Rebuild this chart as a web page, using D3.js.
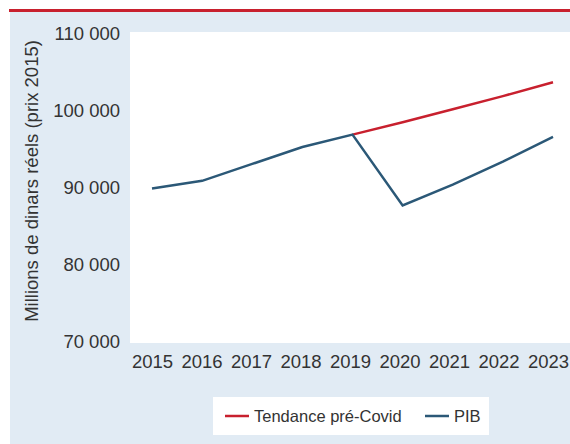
<!DOCTYPE html>
<html>
<head>
<meta charset="utf-8">
<script src="https://cdn.jsdelivr.net/npm/d3@7"></script>
<style>
  body { margin: 0; background: #fff; }
  text { font-family: "Liberation Sans", Arial, sans-serif; fill: #333; }
</style>
</head>
<body>
<script>
// data
var years = [2015, 2016, 2017, 2018, 2019, 2020, 2021, 2022, 2023];
var pib = [89800, 90800, 93000, 95200, 96800, 87600, 90300, 93300, 96500];
var trendYears = [2019, 2020, 2021, 2022, 2023];
var trend = [96800, 98400, 100100, 101800, 103600];
var yTicks = [70000, 80000, 90000, 100000, 110000];
var legendLabels = ['Tendance pré-Covid', 'PIB'];
var colors = ['#c8202e', '#2b5877'];

var W = 570, H = 444;
var svg = d3.select('body').append('svg').attr('width', W).attr('height', H);

// background panel and top rule
svg.append('rect').attr('x', 10).attr('y', 11).attr('width', W - 10).attr('height', H - 11).attr('fill', '#e1ebf4');
svg.append('rect').attr('x', 9).attr('y', 9).attr('width', W - 9).attr('height', 3).attr('fill', '#c8202e');

// plot area
var plot = {left: 130, top: 32, right: 570, bottom: 343};
svg.append('rect').attr('x', plot.left).attr('y', plot.top)
  .attr('width', plot.right - plot.left).attr('height', plot.bottom - plot.top).attr('fill', '#fff');

// data x positions and label positions differ slightly in the original
var x = d3.scalePoint().domain(years).range([152, 553]);
var xLab = d3.scalePoint().domain(years).range([152, 548]);
var y = d3.scaleLinear().domain([70000, 110000]).range([341, 33]);

var fmt = function(d) { return d3.format(',')(d).replace(',', ' '); };

// y axis labels
var yAxis = svg.append('g').attr('transform', 'translate(' + plot.left + ',0)')
  .call(d3.axisLeft(y).tickValues(yTicks).tickSize(0).tickPadding(10).tickFormat(fmt));
yAxis.select('.domain').remove();
yAxis.selectAll('text').attr('font-size', 18.5).style('font-family', null).attr('fill', '#333').attr('dy', '0.36em');

// x axis labels
var xAxis = svg.append('g').attr('transform', 'translate(0,' + plot.bottom + ')')
  .call(d3.axisBottom(xLab).tickSize(0).tickPadding(12));
xAxis.select('.domain').remove();
xAxis.selectAll('text').attr('font-size', 18.5).style('font-family', null).attr('fill', '#333').attr('dy', '0.72em');

// axis title
svg.append('text')
  .attr('transform', 'translate(38,181) rotate(-90)')
  .attr('text-anchor', 'middle').attr('font-size', 18.5)
  .text('Millions de dinars réels (prix 2015)');

// lines
var line = d3.line().x(function(d) { return x(d[0]); }).y(function(d) { return y(d[1]); });
svg.append('path').datum(d3.zip(trendYears, trend))
  .attr('d', line).attr('fill', 'none').attr('stroke', colors[0]).attr('stroke-width', 2.5);
svg.append('path').datum(d3.zip(years, pib))
  .attr('d', line).attr('fill', 'none').attr('stroke', colors[1]).attr('stroke-width', 2.5);

// legend
svg.append('rect').attr('x', 213).attr('y', 397).attr('width', 276).attr('height', 38).attr('fill', '#fff');
var lx = [225, 425];
legendLabels.forEach(function(l, i) {
  svg.append('line').attr('x1', lx[i]).attr('x2', lx[i] + 24).attr('y1', 416).attr('y2', 416)
    .attr('stroke', colors[i]).attr('stroke-width', 2.5);
  svg.append('text').attr('x', lx[i] + 29).attr('y', 416).attr('dy', '0.36em')
    .attr('font-size', 16.5).text(l);
});
</script>
</body>
</html>
